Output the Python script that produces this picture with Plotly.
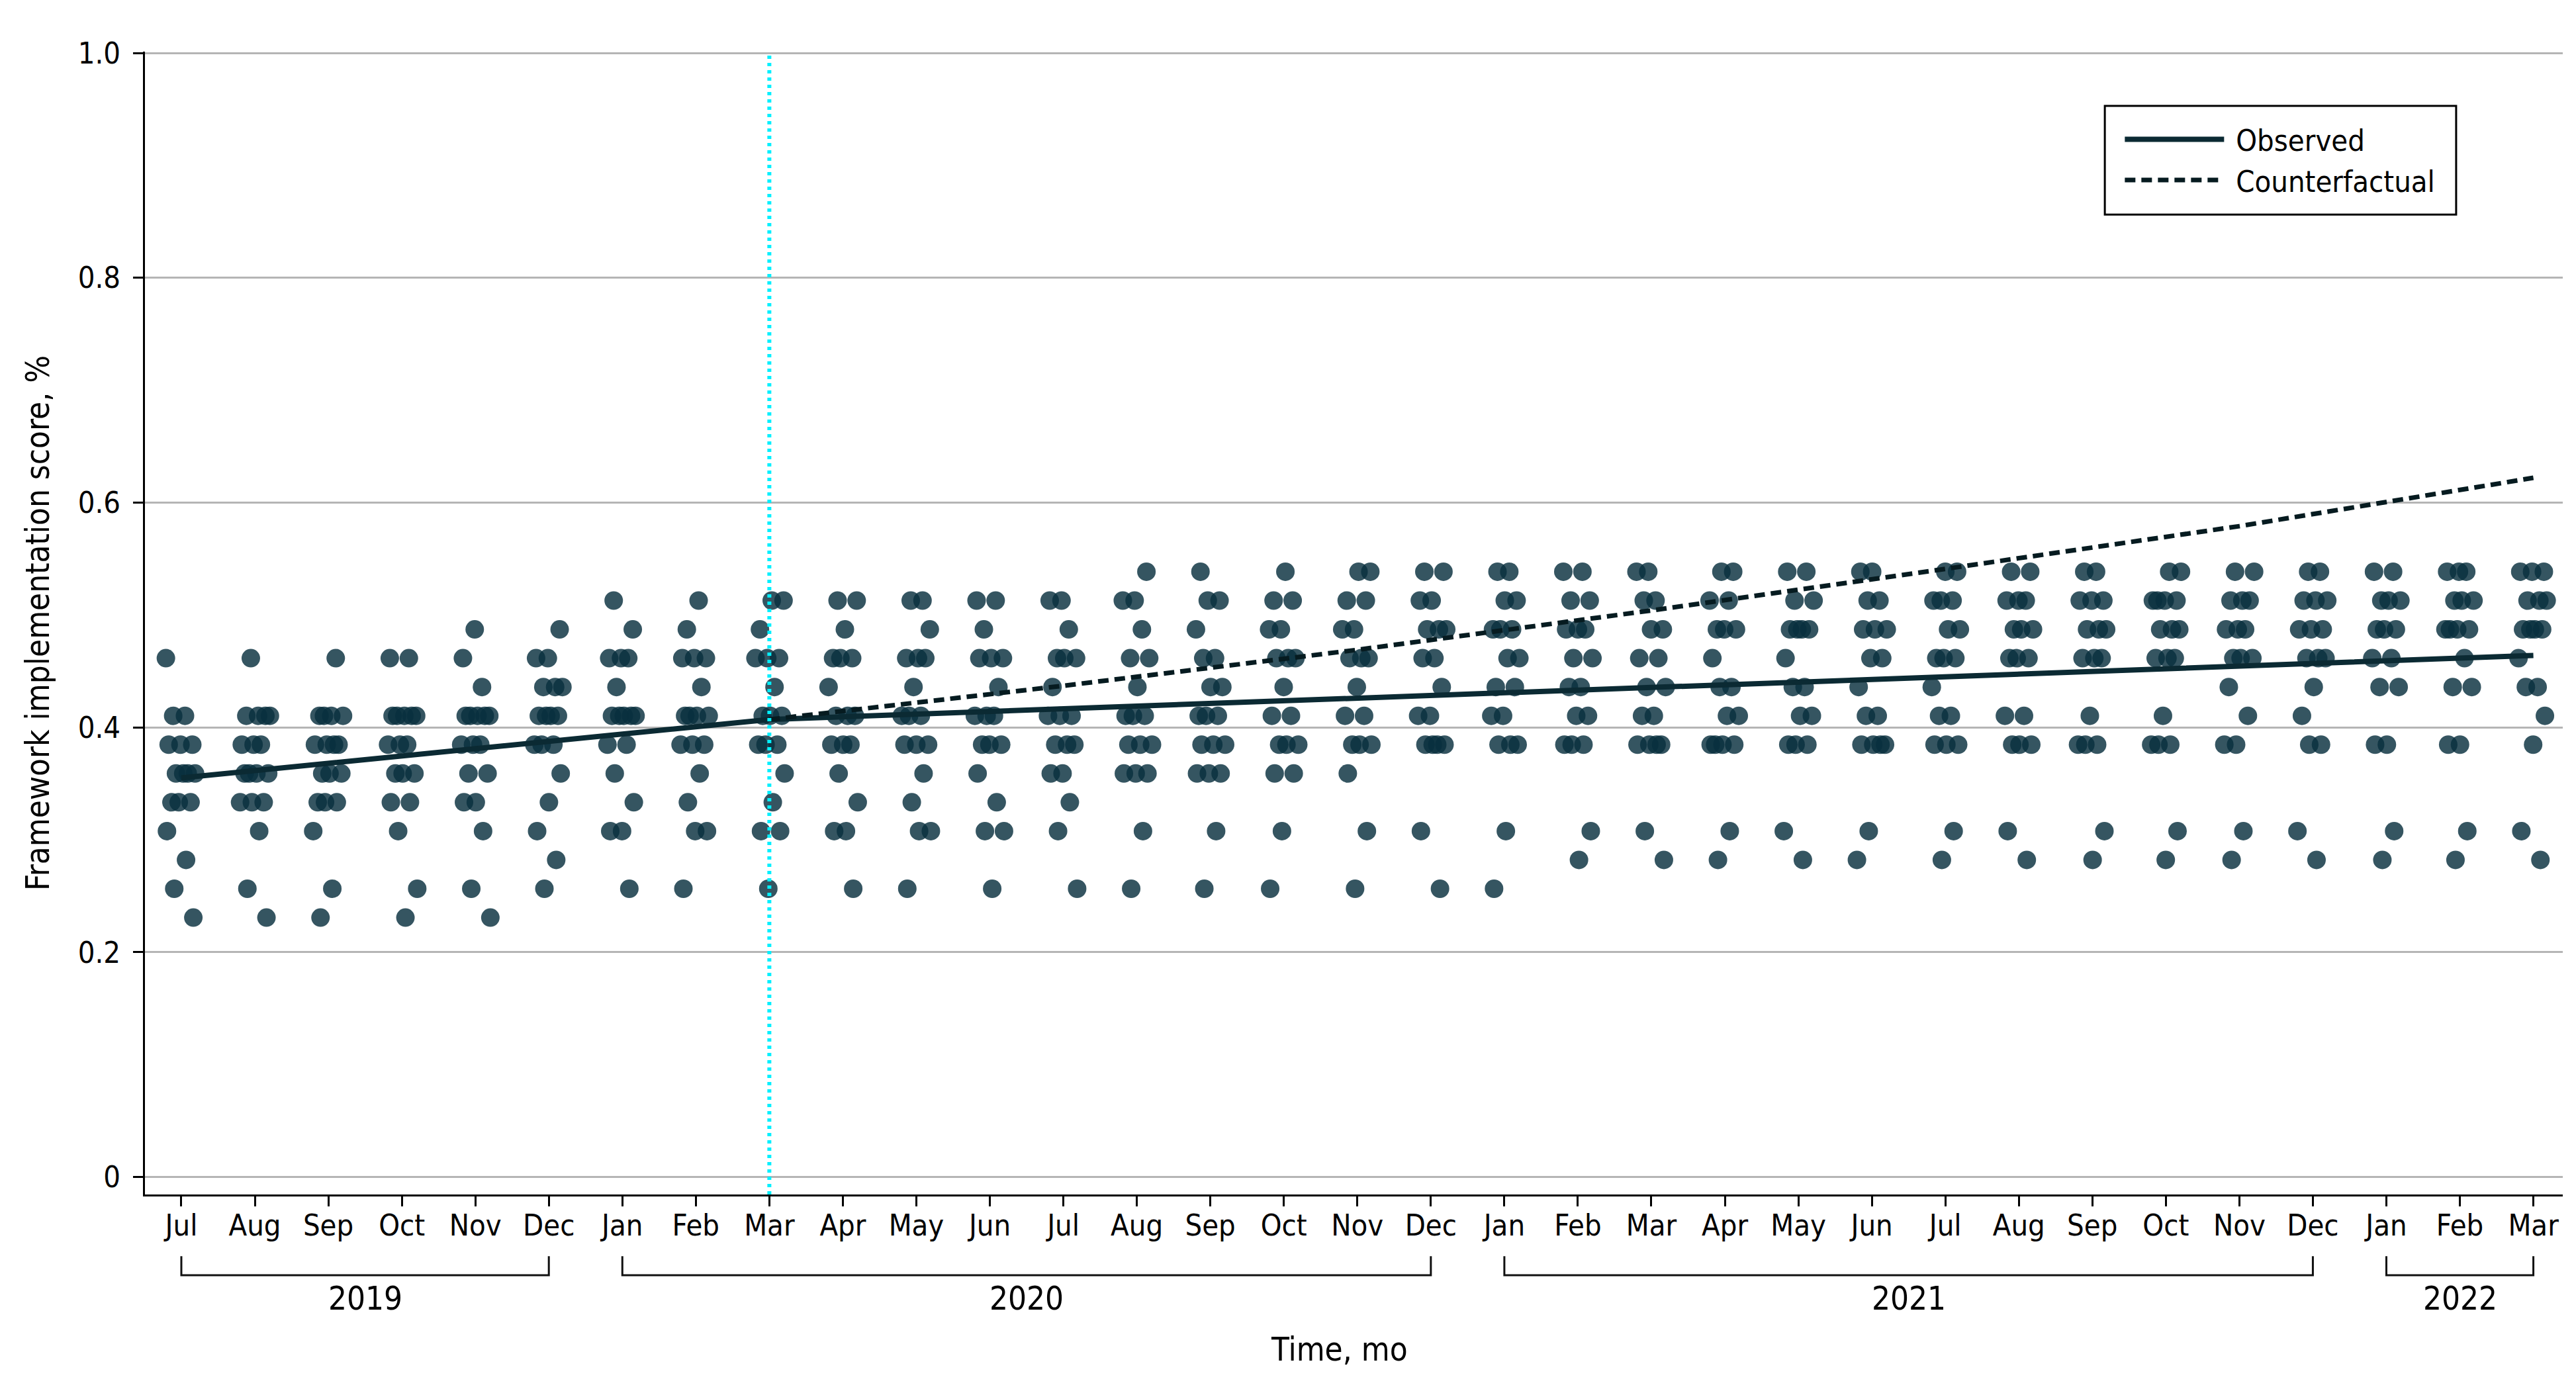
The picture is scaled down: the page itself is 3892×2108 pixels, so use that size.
import plotly.graph_objects as go

# month labels, Jul 2019 .. Mar 2022
months = ["Jul", "Aug", "Sep", "Oct", "Nov", "Dec",
          "Jan", "Feb", "Mar", "Apr", "May", "Jun", "Jul", "Aug", "Sep", "Oct", "Nov", "Dec",
          "Jan", "Feb", "Mar", "Apr", "May", "Jun", "Jul", "Aug", "Sep", "Oct", "Nov", "Dec",
          "Jan", "Feb", "Mar"]
years = ["2019", "2020", "2021", "2022"]
year_first_month = [0, 6, 18, 30]
year_last_month = [5, 17, 29, 32]

# site scores per month (points out of max_score)
max_score = 39
scores_2019 = [
    [18, 16, 16, 15, 15, 15, 14, 14, 14, 14, 13, 13, 13, 12, 11, 10, 9],
    [18, 16, 16, 16, 16, 15, 15, 15, 14, 14, 14, 14, 13, 13, 13, 12, 10, 9],
    [18, 16, 16, 16, 16, 15, 15, 15, 15, 14, 14, 14, 13, 13, 13, 12, 10, 9],
    [18, 18, 16, 16, 16, 16, 16, 15, 15, 15, 14, 14, 14, 13, 13, 12, 10, 9],
    [19, 18, 17, 16, 16, 16, 16, 16, 15, 15, 15, 14, 14, 13, 13, 12, 10, 9],
    [19, 18, 18, 17, 17, 17, 16, 16, 16, 16, 15, 15, 15, 14, 13, 12, 11, 10],
]
scores_2020 = [
    [20, 19, 18, 18, 18, 17, 16, 16, 16, 16, 16, 15, 15, 14, 13, 12, 12, 10],
    [20, 19, 18, 18, 18, 17, 16, 16, 16, 16, 15, 15, 15, 14, 13, 12, 12, 10],
    [20, 20, 19, 18, 18, 18, 17, 16, 16, 16, 15, 15, 15, 14, 13, 12, 12, 10],
    [20, 20, 19, 18, 18, 18, 17, 16, 16, 16, 15, 15, 15, 14, 13, 12, 12, 10],
    [20, 20, 19, 18, 18, 18, 17, 16, 16, 16, 15, 15, 15, 14, 13, 12, 12, 10],
    [20, 20, 19, 18, 18, 18, 17, 16, 16, 16, 15, 15, 15, 14, 13, 12, 12, 10],
    [20, 20, 19, 18, 18, 18, 17, 16, 16, 16, 15, 15, 15, 14, 14, 13, 12, 10],
    [21, 20, 20, 19, 18, 18, 17, 16, 16, 16, 15, 15, 15, 14, 14, 14, 12, 10],
    [21, 20, 20, 19, 18, 18, 17, 17, 16, 16, 16, 15, 15, 15, 14, 14, 14, 12, 10],
    [21, 20, 20, 19, 19, 18, 18, 18, 17, 16, 16, 15, 15, 15, 14, 14, 12, 10],
    [21, 21, 20, 20, 19, 19, 18, 18, 18, 17, 16, 16, 15, 15, 15, 14, 12, 10],
    [21, 21, 20, 20, 19, 19, 19, 18, 18, 17, 16, 16, 15, 15, 15, 15, 12, 10],
]
scores_2021 = [
    [21, 21, 20, 20, 19, 19, 19, 18, 18, 17, 17, 16, 16, 15, 15, 15, 12, 10],
    [21, 21, 20, 20, 19, 19, 19, 18, 18, 17, 17, 16, 16, 15, 15, 15, 12, 11],
    [21, 21, 20, 20, 19, 19, 18, 18, 17, 17, 16, 16, 15, 15, 15, 15, 12, 11],
    [21, 21, 20, 20, 19, 19, 19, 18, 17, 17, 16, 16, 15, 15, 15, 15, 12, 11],
    [21, 21, 20, 20, 19, 19, 19, 19, 18, 17, 17, 16, 16, 15, 15, 15, 12, 11],
    [21, 21, 20, 20, 19, 19, 19, 18, 18, 17, 16, 16, 15, 15, 15, 15, 12, 11],
    [21, 21, 20, 20, 20, 19, 19, 18, 18, 18, 17, 16, 16, 15, 15, 15, 12, 11],
    [21, 21, 20, 20, 20, 19, 19, 19, 18, 18, 18, 16, 16, 15, 15, 15, 12, 11],
    [21, 21, 20, 20, 20, 19, 19, 19, 18, 18, 18, 16, 15, 15, 15, 12, 11],
    [21, 21, 20, 20, 20, 20, 19, 19, 19, 18, 18, 18, 16, 15, 15, 15, 12, 11],
    [21, 21, 20, 20, 20, 19, 19, 19, 18, 18, 18, 17, 16, 15, 15, 12, 11],
    [21, 21, 20, 20, 20, 19, 19, 19, 18, 18, 18, 17, 16, 15, 15, 12, 11],
]
scores_2022 = [
    [21, 21, 20, 20, 20, 19, 19, 19, 18, 18, 17, 17, 15, 15, 12, 11],
    [21, 21, 21, 20, 20, 20, 19, 19, 19, 19, 18, 17, 17, 15, 15, 12, 11],
    [21, 21, 21, 20, 20, 20, 19, 19, 19, 19, 18, 17, 17, 16, 15, 12, 11],
]

# segmented regression fits
interruption_month = 8
observed_months = [0, 8, 32]
observed_trend = [0.355, 0.407, 0.464]
counterfactual_months = [8, 12, 16, 20, 24, 28, 32]
counterfactual_trend = [0.407, 0.437, 0.469, 0.504, 0.541, 0.579, 0.622]

FONT = "DejaVu Sans Condensed, DejaVu Sans, sans-serif"
TICK_FS = 45
TITLE_FS = 49

all_months = scores_2019 + scores_2020 + scores_2021 + scores_2022

# deterministic horizontal spread of the site points within each month
px, py = [], []
for i, month_scores in enumerate(all_months):
    for j, s in enumerate(month_scores):
        spread = ((i * 0.37 + j * 0.618034) % 1.0 - 0.5) * 0.42
        px.append(i + spread)
        py.append(s / max_score)

fig = go.Figure()
fig.add_trace(go.Scatter(
    x=px, y=py, mode="markers", showlegend=False, hoverinfo="skip",
    marker=dict(size=28, color="rgba(8,48,62,0.82)", line=dict(width=0)),
))
fig.add_trace(go.Scatter(
    x=observed_months, y=observed_trend, mode="lines", name="\u00a0Observed",
    line=dict(color="#0b2a33", width=8),
))
fig.add_trace(go.Scatter(
    x=counterfactual_months, y=counterfactual_trend, mode="lines",
    name="\u00a0Counterfactual",
    line=dict(color="#061b20", width=7, dash="16px,9px"),
))

# interruption marker
fig.add_shape(type="line", xref="x", yref="paper",
              x0=interruption_month, x1=interruption_month, y0=0, y1=1,
              line=dict(color="#00f0ff", width=6, dash="5px,6px"), layer="above")

# legend frame (drawn separately so it can have the roomy padding of the original)
fig.add_shape(type="rect", xref="paper", yref="paper",
              x0=0.8106, x1=0.9559, y0=0.8574, y1=0.9525,
              line=dict(color="black", width=3), fillcolor="white", layer="below")

# year brackets under the month labels
for yr, a, b in zip(years, year_first_month, year_last_month):
    fig.add_shape(type="path", xref="x", yref="paper",
                  path=f"M {a},-0.054 L {a},-0.0707 L {b},-0.0707 L {b},-0.054",
                  line=dict(color="#111111", width=3))
    fig.add_annotation(x=(a + b) / 2, y=-0.091, xref="x", yref="paper",
                       text=yr, showarrow=False, yanchor="middle",
                       font=dict(family=FONT, size=TITLE_FS, color="black"))

fig.add_annotation(x=0.494, y=-0.136, xref="paper", yref="paper",
                   text="Time, mo", showarrow=False, yanchor="middle",
                   font=dict(family=FONT, size=TITLE_FS, color="black"))

fig.update_layout(
    width=3892, height=2108,
    margin=dict(l=211, r=28, t=70, b=311),
    plot_bgcolor="white", paper_bgcolor="white",
    font=dict(family=FONT, size=TICK_FS, color="black"),
    legend=dict(x=0.8175, y=0.944, xanchor="left", yanchor="top",
                borderwidth=0, bgcolor="rgba(0,0,0,0)",
                font=dict(family=FONT, size=TICK_FS, color="black"),
                itemwidth=150),
    xaxis=dict(
        range=[-0.495, 32.4], tickvals=list(range(len(months))), ticktext=months,
        ticks="outside", ticklen=15, tickwidth=3, tickcolor="black",
        ticklabelstandoff=-10,
        showline=True, linecolor="black", linewidth=3,
        showgrid=False, zeroline=False,
        tickfont=dict(family=FONT, size=TICK_FS, color="black"),
    ),
    yaxis=dict(
        range=[-0.0156, 1.0012], tickvals=[0, 0.2, 0.4, 0.6, 0.8, 1.0],
        ticktext=["0", "0.2", "0.4", "0.6", "0.8", "1.0"],
        ticks="outside", ticklen=15, tickwidth=3, tickcolor="black",
        ticklabelstandoff=10,
        showline=True, linecolor="black", linewidth=3,
        showgrid=True, gridcolor="#b5b5b5", gridwidth=3, zeroline=False,
        tickfont=dict(family=FONT, size=TICK_FS, color="black"),
        title=dict(text="Framework implementation score, %", standoff=28,
                   font=dict(family=FONT, size=TITLE_FS, color="black")),
    ),
)

fig.write_html("out.html")
